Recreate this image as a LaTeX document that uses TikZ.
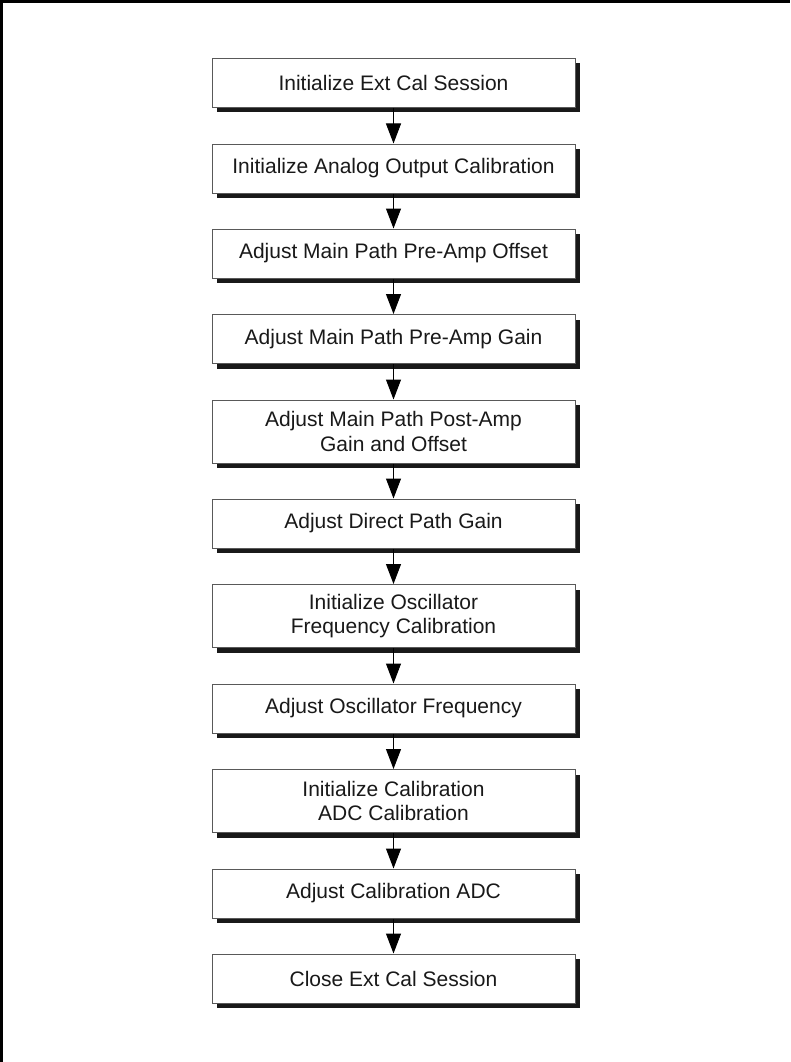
\documentclass[tikz,border=0pt]{standalone}
\usepackage{fontspec}
\setmainfont{Liberation Sans}
\usetikzlibrary{arrows.meta,shadows}
\tikzset{
  stepbox/.style={draw=black!65, line width=1pt, fill=white,
    minimum width=363pt, minimum height=49pt, inner sep=0pt,
    align=center, font=\fontsize{21pt}{24.5pt}\selectfont, text=black!90,
    drop shadow={shadow xshift=5pt, shadow yshift=-5pt, fill=black!90, opacity=1}},
  tallbox/.style={stepbox, minimum height=63pt},
  flow/.style={draw=black, line width=1pt, -{Triangle[width=15pt,length=20pt]}},
  frameline/.style={line width=2.7pt, black}
}
\begin{document}
\begin{tikzpicture}[x=1pt,y=-1pt]
\useasboundingbox (0,0) rectangle (790,1062);
\draw[frameline] (1.35,1062) -- (1.35,1.35) -- (790,1.35);
\node[stepbox] (b1) at (393.5,83) {Initialize Ext Cal Session};
\node[stepbox] (b2) at (393.5,168.5) {Initialize Analog Output Calibration};
\node[stepbox] (b3) at (393.5,253.5) {Adjust Main Path Pre-Amp Offset};
\node[stepbox] (b4) at (393.5,339) {Adjust Main Path Pre-Amp Gain};
\node[tallbox] (b5) at (393.5,431.5) {Adjust Main Path Post-Amp\\Gain and Offset};
\node[stepbox] (b6) at (393.5,523.5) {Adjust Direct Path Gain};
\node[tallbox] (b7) at (393.5,616) {Initialize Oscillator\\Frequency Calibration};
\node[stepbox] (b8) at (393.5,708.5) {Adjust Oscillator Frequency};
\node[tallbox] (b9) at (393.5,801) {Initialize Calibration\\ADC Calibration};
\node[stepbox] (b10) at (393.5,893.5) {Adjust Calibration ADC};
\node[stepbox] (b11) at (393.5,978.5) {Close Ext Cal Session};
\foreach \a/\b in {b1/b2,b2/b3,b3/b4,b4/b5,b5/b6,b6/b7,b7/b8,b8/b9,b9/b10,b10/b11}
  \draw[flow] (\a.south) -- (\b.north);
\end{tikzpicture}
\end{document}
